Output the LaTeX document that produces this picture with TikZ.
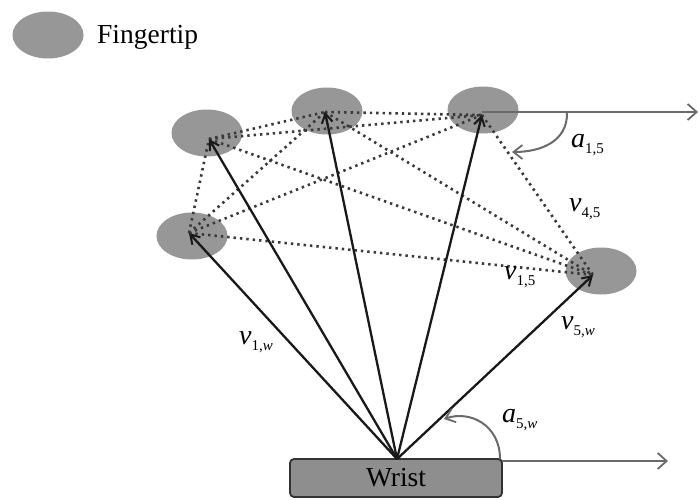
\documentclass[tikz,border=0pt]{standalone}
\usepackage{fontspec}
\setmainfont{LiberationSerif}[Extension=.ttf, UprightFont=*-Regular, ItalicFont=*-Italic, BoldFont=*-Bold, BoldItalicFont=*-BoldItalic]
\usetikzlibrary{arrows.meta,shapes.geometric}
\definecolor{tipgray}{HTML}{979797}
\definecolor{boxgray}{HTML}{8E8E8E}
\definecolor{linegray}{HTML}{6A6A6A}
\definecolor{dotgray}{HTML}{3A3A3A}
\newcommand{\lbl}[2]{{\fontsize{28}{28}\selectfont\itshape #1}\raisebox{-6pt}{\fontsize{15}{15}\selectfont #2}}
\tikzset{
  tipnode/.style={ellipse, fill=tipgray, draw=none, minimum width=71pt, minimum height=47pt, inner sep=0pt},
  wristbox/.style={rectangle, rounded corners=4pt, fill=boxgray, draw=black!80, line width=1.8pt,
    minimum width=212pt, minimum height=38pt, inner sep=0pt, font=\fontsize{27.5}{30}\selectfont},
  vec/.style={black!90, line width=2.3pt, -{Straight Barb[length=9pt,width=11pt,line width=2pt]}},
  dots/.style={dotgray, line width=2.6pt, dash pattern=on 2.4pt off 4pt},
  axis/.style={linegray, line width=1.8pt, -{Straight Barb[length=9pt,width=16pt,line width=1.8pt]}},
  anglearc/.style={linegray, line width=2pt, -{Straight Barb[length=9pt,width=14pt,line width=1.8pt]}},
  lab/.style={inner sep=0pt, anchor=west}
}
\begin{document}
\begin{tikzpicture}[x=1pt,y=-1pt]
\useasboundingbox (0,0) rectangle (699,499);
\fill[white] (0,0) rectangle (699,499);
% legend
\node[tipnode] (leg) at (48,35) {};
\node[lab, font=\fontsize{27.5}{30}\selectfont] (legt) at (97,37) {Fingertip};
% fingertips
\node[tipnode] (f1) at (192,236) {};
\node[tipnode] (f2) at (207,133) {};
\node[tipnode] (f3) at (327,111) {};
\node[tipnode] (f4) at (483,110) {};
\node[tipnode] (f5) at (601,271) {};
\coordinate (t1) at (189,233);
\coordinate (t2) at (209,139);
\coordinate (t3) at (325,112);
\coordinate (t4) at (482,115);
\coordinate (t5) at (593,275);
% wrist
\node[wristbox] (wrist) at (396,478) {Wrist};
\coordinate (w) at (397,459);
% dotted connections
\foreach \a/\b in {t1/t2,t1/t3,t1/t4,t1/t5,t2/t3,t2/t4,t2/t5,t3/t4,t3/t5,t4/t5}
  \draw[dots] (\a) -- (\b);
% vectors
\foreach \t in {t1,t2,t3,t4,t5}
  \draw[vec] (w) -- (\t);
% horizontal axes
\coordinate (h1e) at (698,112);
\draw[axis] (t4 |- 0,112) -- (h1e);
\coordinate (h2s) at (502,461);
\coordinate (h2e) at (668,461);
\draw[axis] (h2s) -- (h2e);
% angle arcs
\coordinate (a1s) at (567,112);
\coordinate (a1e) at (512,152);
\draw[anglearc] (a1s) .. controls (568,142) and (540,152) .. (a1e);
\coordinate (a2s) at (500,459);
\coordinate (a2e) at (444,419);
\draw[anglearc] (a2s) .. controls (500,425) and (470,410) .. (a2e);
% labels
\node[lab] (la15) at (571,145) {\lbl{a}{1,5}};
\node[lab] (lv45) at (569,209) {\lbl{v}{4,5}};
\node[lab] (lv15) at (504,277) {\lbl{v}{1,5}};
\node[lab] (lv5w) at (561,327) {\lbl{v}{5,\textit{w}}};
\node[lab] (lv1w) at (239,342) {\lbl{v}{1,\textit{w}}};
\node[lab] (la5w) at (502,420) {\lbl{a}{5,\textit{w}}};
\end{tikzpicture}
\end{document}
